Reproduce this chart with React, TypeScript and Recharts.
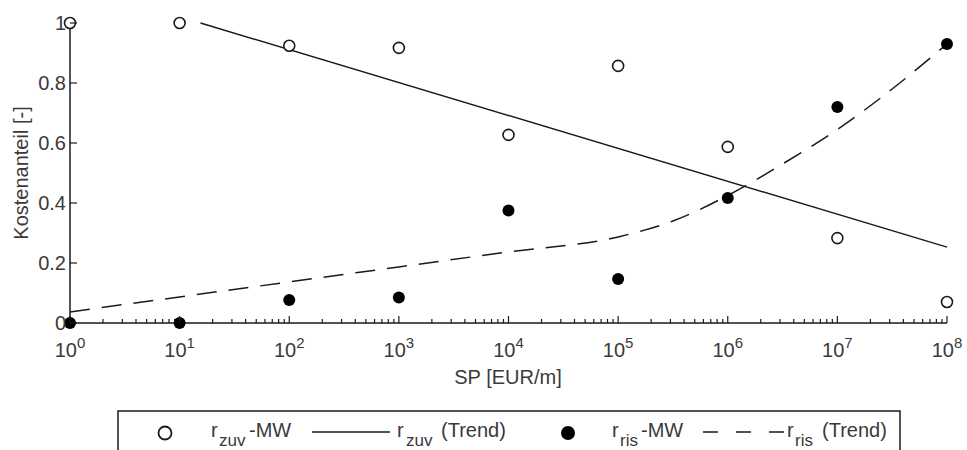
import React from 'react';
import {
  ComposedChart,
  Scatter,
  Line,
  XAxis,
  YAxis,
  Customized,
} from 'recharts';

// Mittelwerte je Dekade
const spValues = [1, 10, 100, 1e3, 1e4, 1e5, 1e6, 1e7, 1e8];
const zuvMean = [1.0, 1.0, 0.924, 0.917, 0.627, 0.857, 0.587, 0.283, 0.07];
const risMean = [0.0, 0.0, 0.077, 0.085, 0.375, 0.147, 0.417, 0.72, 0.93];

// Trendlinien
const zuvTrendX = [15.5, 1e8];
const zuvTrendY = [1.0, 0.253];
const risTrendX = [1, 10, 100, 1e3, 1e4, 1e5, 3.16e5, 1e6, 3.16e6, 1e7, 3.16e7, 1e8];
const risTrendY = [0.037, 0.087, 0.137, 0.187, 0.237, 0.287, 0.34, 0.425, 0.53, 0.645, 0.78, 0.93];

const yTicks = [0, 0.2, 0.4, 0.6, 0.8, 1];
const xExponents = [0, 1, 2, 3, 4, 5, 6, 7, 8];

const xTicks: number[] = [];
xExponents.forEach((e) => {
  if (e === 8) {
    xTicks.push(1e8);
    return;
  }
  for (let m = 1; m <= 9; m++) xTicks.push(m * Math.pow(10, e));
});

const zuvData = spValues.map((x, i) => ({ x, y: zuvMean[i] }));
const risData = spValues.map((x, i) => ({ x, y: risMean[i] }));
const zuvTrend = zuvTrendX.map((x, i) => ({ x, y: zuvTrendY[i] }));
const risTrend = risTrendX.map((x, i) => ({ x, y: risTrendY[i] }));

const FONT = '"Liberation Sans", Arial, sans-serif';
const TEXT = '#3a3a3a';
const INK = '#1a1a1a';

function XTick(props: any) {
  const { x, y, payload } = props;
  const exp = Math.log10(payload.value);
  const major = Math.abs(exp - Math.round(exp)) < 1e-6;
  return (
    <g>
      <line x1={x} y1={y} x2={x} y2={y - (major ? 7 : 4)} stroke={INK} strokeWidth={1.2} />
      {major && (
        <text x={x} y={y + 34} textAnchor="middle" fontFamily={FONT} fontSize={20} fill={TEXT}>
          10
          <tspan dy={-9} fontSize={15}>
            {Math.round(exp)}
          </tspan>
        </text>
      )}
    </g>
  );
}

function YTick(props: any) {
  const { x, y, payload } = props;
  const v = payload.value;
  const label = v === 0 ? '0' : v === 1 ? '1' : v.toFixed(1);
  return (
    <g>
      <line x1={x} y1={y} x2={x + 7} y2={y} stroke={INK} strokeWidth={1.2} />
      <text x={x - 4} y={y + 7} textAnchor="end" fontFamily={FONT} fontSize={20} fill={TEXT}>
        {label}
      </text>
    </g>
  );
}

const OpenDot = (props: any) => (
  <circle cx={props.cx} cy={props.cy} r={5.5} fill="#fff" stroke={INK} strokeWidth={1.6} />
);
const FilledDot = (props: any) => (
  <circle cx={props.cx} cy={props.cy} r={6} fill="#000" stroke="none" />
);

function Titles() {
  return (
    <g fontFamily={FONT} fontSize={20} fill={TEXT}>
      <text x={508} y={384} textAnchor="middle">
        SP [EUR/m]
      </text>
      <text x={28} y={173} textAnchor="middle" transform="rotate(-90 28 173)">
        Kostenanteil [-]
      </text>
    </g>
  );
}

function LegendBox() {
  return (
    <svg
      width={967}
      height={450}
      style={{ position: 'absolute', left: 0, top: 0, pointerEvents: 'none' }}
    >
      <rect x={118} y={411} width={782} height={60} fill="#fff" stroke={INK} strokeWidth={1.5} />
      <g fontFamily={FONT} fill={TEXT}>
        <circle cx={165} cy={433} r={6.5} fill="#fff" stroke={INK} strokeWidth={1.8} />
        <text y={437} fontSize={20}>
          <tspan x={211}>r</tspan>
          <tspan x={219} y={446} fontSize={17}>zuv</tspan>
          <tspan x={249} y={437}>-MW</tspan>
        </text>

        <line x1={312} y1={432} x2={390} y2={432} stroke={INK} strokeWidth={1.5} />
        <text y={437} fontSize={20}>
          <tspan x={397}>r</tspan>
          <tspan x={406} y={446} fontSize={17}>zuv</tspan>
          <tspan x={441} y={437}>(Trend)</tspan>
        </text>

        <circle cx={568} cy={433} r={7} fill="#000" />
        <text y={437} fontSize={20}>
          <tspan x={612}>r</tspan>
          <tspan x={620} y={446} fontSize={17}>ris</tspan>
          <tspan x={641} y={437}>-MW</tspan>
        </text>

        <line
          x1={703}
          y1={432}
          x2={785}
          y2={432}
          stroke={INK}
          strokeWidth={1.5}
          strokeDasharray="15 18"
        />
        <text y={437} fontSize={20}>
          <tspan x={787}>r</tspan>
          <tspan x={795} y={446} fontSize={17}>ris</tspan>
          <tspan x={822} y={437}>(Trend)</tspan>
        </text>
      </g>
    </svg>
  );
}

export default function App() {
  return (
    <div
      style={{
        position: 'fixed',
        left: 0,
        top: 0,
        width: 967,
        height: 450,
        overflow: 'hidden',
        background: '#fff',
      }}
    >
      <ComposedChart
        width={967}
        height={450}
        margin={{ top: 23, right: 20, bottom: 97, left: 40 }}
      >
        <XAxis
          dataKey="x"
          type="number"
          scale="log"
          domain={[1, 1e8]}
          ticks={xTicks}
          interval={0}
          height={30}
          tickSize={0}
          tickMargin={0}
          tickLine={false}
          tick={<XTick />}
          axisLine={{ stroke: INK, strokeWidth: 1.5 }}
        />
        <YAxis
          dataKey="y"
          type="number"
          domain={[0, 1]}
          ticks={yTicks}
          interval={0}
          width={30}
          tickSize={0}
          tickMargin={0}
          tickLine={false}
          tick={<YTick />}
          axisLine={{ stroke: INK, strokeWidth: 1.5 }}
        />
        <Line
          data={zuvTrend}
          dataKey="y"
          type="linear"
          stroke={INK}
          strokeWidth={1.5}
          dot={false}
          activeDot={false}
          isAnimationActive={false}
        />
        <Line
          data={risTrend}
          dataKey="y"
          type="monotone"
          stroke={INK}
          strokeWidth={1.5}
          strokeDasharray="20 12"
          dot={false}
          activeDot={false}
          isAnimationActive={false}
        />
        <Scatter data={zuvData} dataKey="y" shape={<OpenDot />} isAnimationActive={false} />
        <Scatter data={risData} dataKey="y" shape={<FilledDot />} isAnimationActive={false} />
        <Customized component={Titles} />
      </ComposedChart>
      <LegendBox />
    </div>
  );
}
